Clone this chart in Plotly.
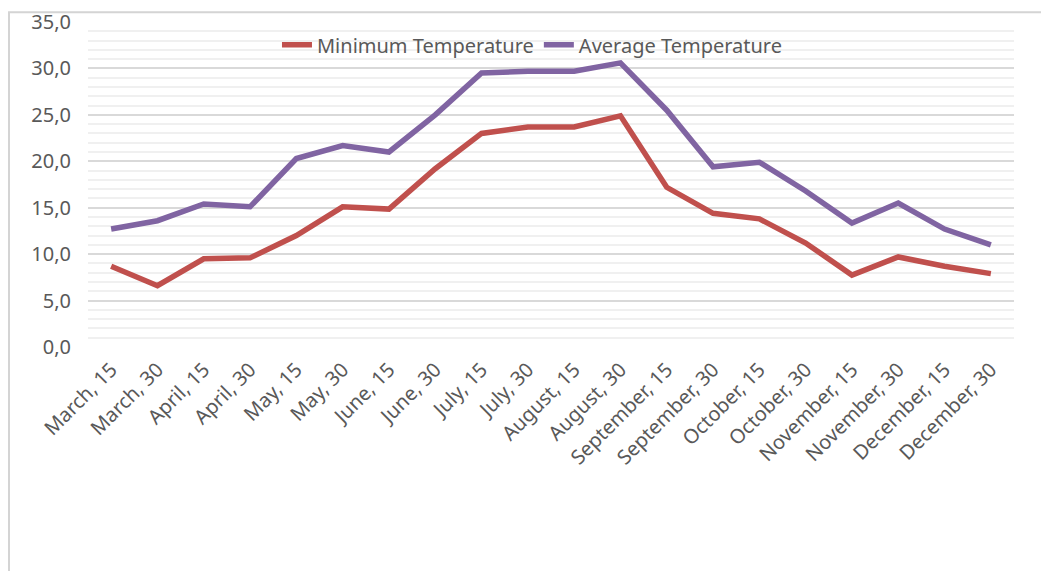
import plotly.graph_objects as go

categories = ["March, 15", "March, 30", "April, 15", "April, 30", "May, 15", "May, 30",
              "June, 15", "June, 30", "July, 15", "July, 30", "August, 15", "August, 30",
              "September, 15", "September, 30", "October, 15", "October, 30",
              "November, 15", "November, 30", "December, 15", "December, 30"]
min_temp = [8.7, 6.6, 9.5, 9.6, 12.0, 15.1, 14.85, 19.2, 23.0, 23.7, 23.7, 24.9,
            17.2, 14.4, 13.8, 11.2, 7.75, 9.7, 8.7, 7.9]
avg_temp = [12.7, 13.6, 15.4, 15.1, 20.3, 21.7, 21.0, 25.0, 29.5, 29.7, 29.7, 30.6,
            25.5, 19.4, 19.9, 16.8, 13.35, 15.5, 12.7, 11.0]
y_ticks = [0, 5, 10, 15, 20, 25, 30, 35]

fig = go.Figure()
fig.add_trace(go.Scatter(x=categories, y=min_temp, mode="lines", name="Minimum Temperature",
                         line=dict(color="#C0504D", width=5.5)))
fig.add_trace(go.Scatter(x=categories, y=avg_temp, mode="lines", name="Average Temperature",
                         line=dict(color="#8064A2", width=5.5)))

fig.update_layout(
    width=1041, height=563,
    margin=dict(l=80, r=35, t=14, b=224, autoexpand=False),
    paper_bgcolor="white", plot_bgcolor="white",
    separators=",.",
    font=dict(family="Noto Sans", color="#595959", size=16),
    showlegend=True,
    legend=dict(orientation="h", x=0.48, xanchor="center", y=0.93, yanchor="middle",
                bgcolor="rgba(0,0,0,0)", font=dict(size=20, color="#595959"),
                tracegroupgap=0),
    xaxis=dict(type="category", range=[-0.5, 19.5], tickangle=-45, showgrid=False,
               showline=False, ticks="", tickfont=dict(size=20, color="#595959"),
               zeroline=False, automargin=False, ticklabelstandoff=6),
    yaxis=dict(range=[0, 35], tickvals=y_ticks, tickformat=".1f", showgrid=True,
               gridcolor="#D9D9D9", gridwidth=2, zeroline=False, showline=False,
               ticks="", tickfont=dict(size=20, color="#595959"), ticklabelstandoff=16,
               automargin=False,
               minor=dict(dtick=1, showgrid=True, gridcolor="#F0F0F0", gridwidth=2)),
)

# outer chart-area border
fig.add_shape(type="rect", xref="paper", yref="paper", x0=-0.0853, x1=1.1,
              y0=-0.75, y1=1.03, line=dict(color="#D4D4D4", width=2),
              fillcolor="rgba(0,0,0,0)", layer="above")

fig.write_html("out.html")
